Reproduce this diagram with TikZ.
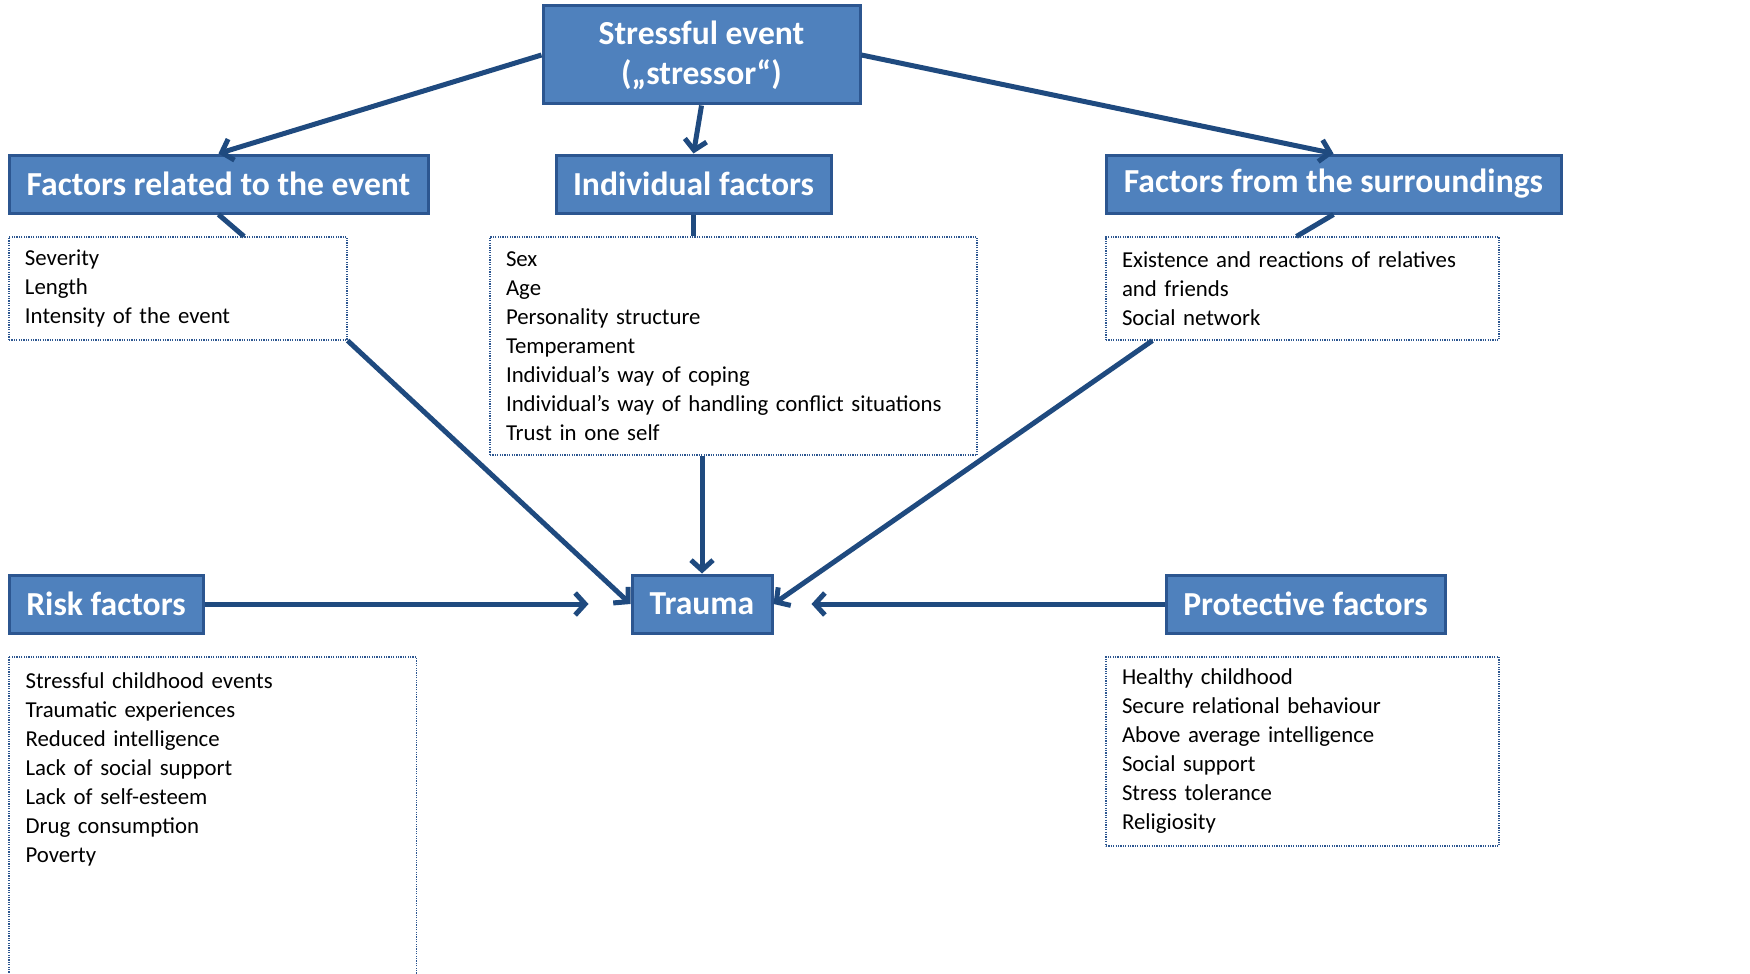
\documentclass[tikz,border=0pt]{standalone}
\usepackage{fontspec}
\setmainfont{Carlito}
\usetikzlibrary{arrows.meta,positioning}
\definecolor{boxblue}{HTML}{4F81BD}
\definecolor{lineblue}{HTML}{1F4A7F}
\definecolor{edgeblue}{HTML}{2C5690}

\begin{document}
\begin{tikzpicture}[x=0.5pt,y=-0.5pt,>={Straight Barb[length=5pt,width=11pt]},
  head/.style={draw=edgeblue,line width=1.5pt,fill=boxblue,text=white,font=\fontsize{16.8}{20}\selectfont\bfseries,minimum height=29pt,inner sep=0pt,align=center},
  items/.style={draw=edgeblue,dash pattern=on 0.6pt off 0.6pt,line width=0.6pt,align=left,inner xsep=8pt,inner ysep=0pt,font=\fontsize{11.4}{14.5}\selectfont},
  link/.style={color=lineblue,line width=2.5pt}]

            \useasboundingbox (0,0) rectangle (1750,974);
            \clip (0,0) rectangle (1750,974);

            \node[head,minimum width=158.5pt,minimum height=49pt] (stress) at (701.5,55) {Stressful event\\(„stressor“)};

            \node[head,minimum width=209.5pt] (event) at (218.5,184) {Factors related to the event};

            \node[head,minimum width=137.5pt] (ind) at (693.5,184) {Individual factors};

            \node[head,minimum width=227.5pt] (env) at (1333.5,184) {Factors from the surroundings};

            \node[head,minimum width=70pt] (trauma) at (702,604) {Trauma};

            \node[head,minimum width=97pt] (risk) at (106,604) {Risk factors};

            \node[head,minimum width=139.5pt] (prot) at (1305.5,604) {Protective factors};

            

            \node[items,text width=153pt,minimum height=51.5pt] (evlist) at (178,288.5) {Severity\\Length\\Intensity of the event};

            \node[items,text width=227.5pt,minimum height=109pt] (indlist) at (733.5,346) {Sex\\Age\\Personality structure\\Temperament\\Individual’s way of coping\\\mbox{Individual’s way of handling conflict situations}\\Trust in one self};

            \node[items,text width=180.5pt,minimum height=51.5pt] (envlist) at (1302.5,288.5) {Existence and reactions of relatives\\and friends\\Social network};

            \node[items,text width=180.5pt,minimum height=94.5pt] (protlist) at (1302.5,751.5) {Healthy childhood\\Secure relational behaviour\\Above average intelligence\\Social support\\Stress tolerance\\Religiosity};

            \node[items,draw=none,text width=187pt,inner ysep=7.5pt,anchor=north west] (risklist) at (9,657) {Stressful childhood events\\Traumatic experiences\\Reduced intelligence\\Lack of social support\\Lack of self-esteem\\Drug consumption\\Poverty};

            \draw[items] (risklist.north west) rectangle ([yshift=-60pt]risklist.south east);

            

            \path[link,->] (stress.west) edge (event.north)

                           (stress.south) edge (ind.north)

                           (stress.east) edge (env.north)

                           (evlist.south east) edge (trauma.west)

                           (trauma.north |- indlist.south) edge (trauma.north)

                           ([xshift=23.5pt]envlist.south west) edge (trauma.east)

                           (risk.east) edge ([xshift=-21pt]trauma.west)

                           (prot.west) edge ([xshift=19pt]trauma.east);

            \path[link] (event.south) edge ([xshift=33pt]evlist.north)

                        (ind.south) edge (ind.south |- indlist.north)

                        (env.south) edge ([xshift=-3pt]envlist.north);

        \end{tikzpicture}
\end{document}
